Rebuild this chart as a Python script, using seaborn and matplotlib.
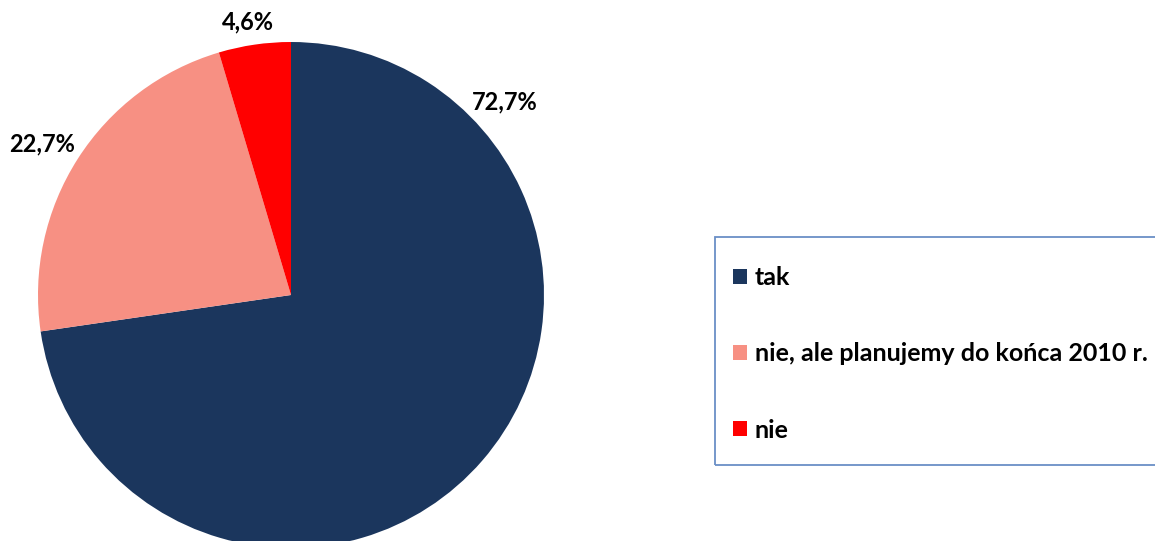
import matplotlib
matplotlib.use("Agg")
import matplotlib.pyplot as plt
from matplotlib.patches import Rectangle
import seaborn as sns

categories = ["tak", "nie, ale planujemy do końca 2010 r.", "nie"]
values = [72.7, 22.7, 4.6]
value_labels = ["72,7%", "22,7%", "4,6%"]

colors = ["#1B365D", "#F79083", "#FF0000"]
label_pos = [(0.846, 0.763), (-0.984, 0.597), (-0.170, 1.079)]

sns.set_theme(style="white")
plt.rcParams["font.family"] = ["Lato", "DejaVu Sans"]
plt.rcParams["text.color"] = "black"

W, H = 1155, 541
fig = plt.figure(figsize=(W / 100, H / 100), dpi=100)
ax = fig.add_axes([0, 0, 1, 1])

R = 253.0
cx, cy = 291.0, 541 - 295.0
wedges, _ = ax.pie(values, colors=colors, startangle=90, counterclock=False,
                   radius=1.0, wedgeprops=dict(linewidth=0))
ax.set_xlim(-cx / R, (W - cx) / R)
ax.set_ylim(-cy / R, (H - cy) / R)
ax.set_aspect("equal", adjustable="box")
ax.axis("off")

for (x, y), t in zip(label_pos, value_labels):
    ax.text(x, y, t, ha="center", va="center", fontsize=17, fontweight="bold", color="black")

# legend frame
fig.patches.append(Rectangle((715 / W, 1 - 465 / H), (1170 - 715) / W, (465 - 237) / H,
                             transform=fig.transFigure, fill=False,
                             edgecolor="#6A8FC6", linewidth=1.3, zorder=5))

leg = fig.legend(wedges, categories, loc="upper left",
                 bbox_to_anchor=(733 / W, 1 - 266 / H),
                 frameon=False, prop=dict(size=18, weight="bold"), labelcolor="black",
                 handlelength=0.56, handleheight=0.56, handletextpad=0.32,
                 labelspacing=2.13, borderpad=0, borderaxespad=0)

fig.savefig("out.png", dpi=100)
